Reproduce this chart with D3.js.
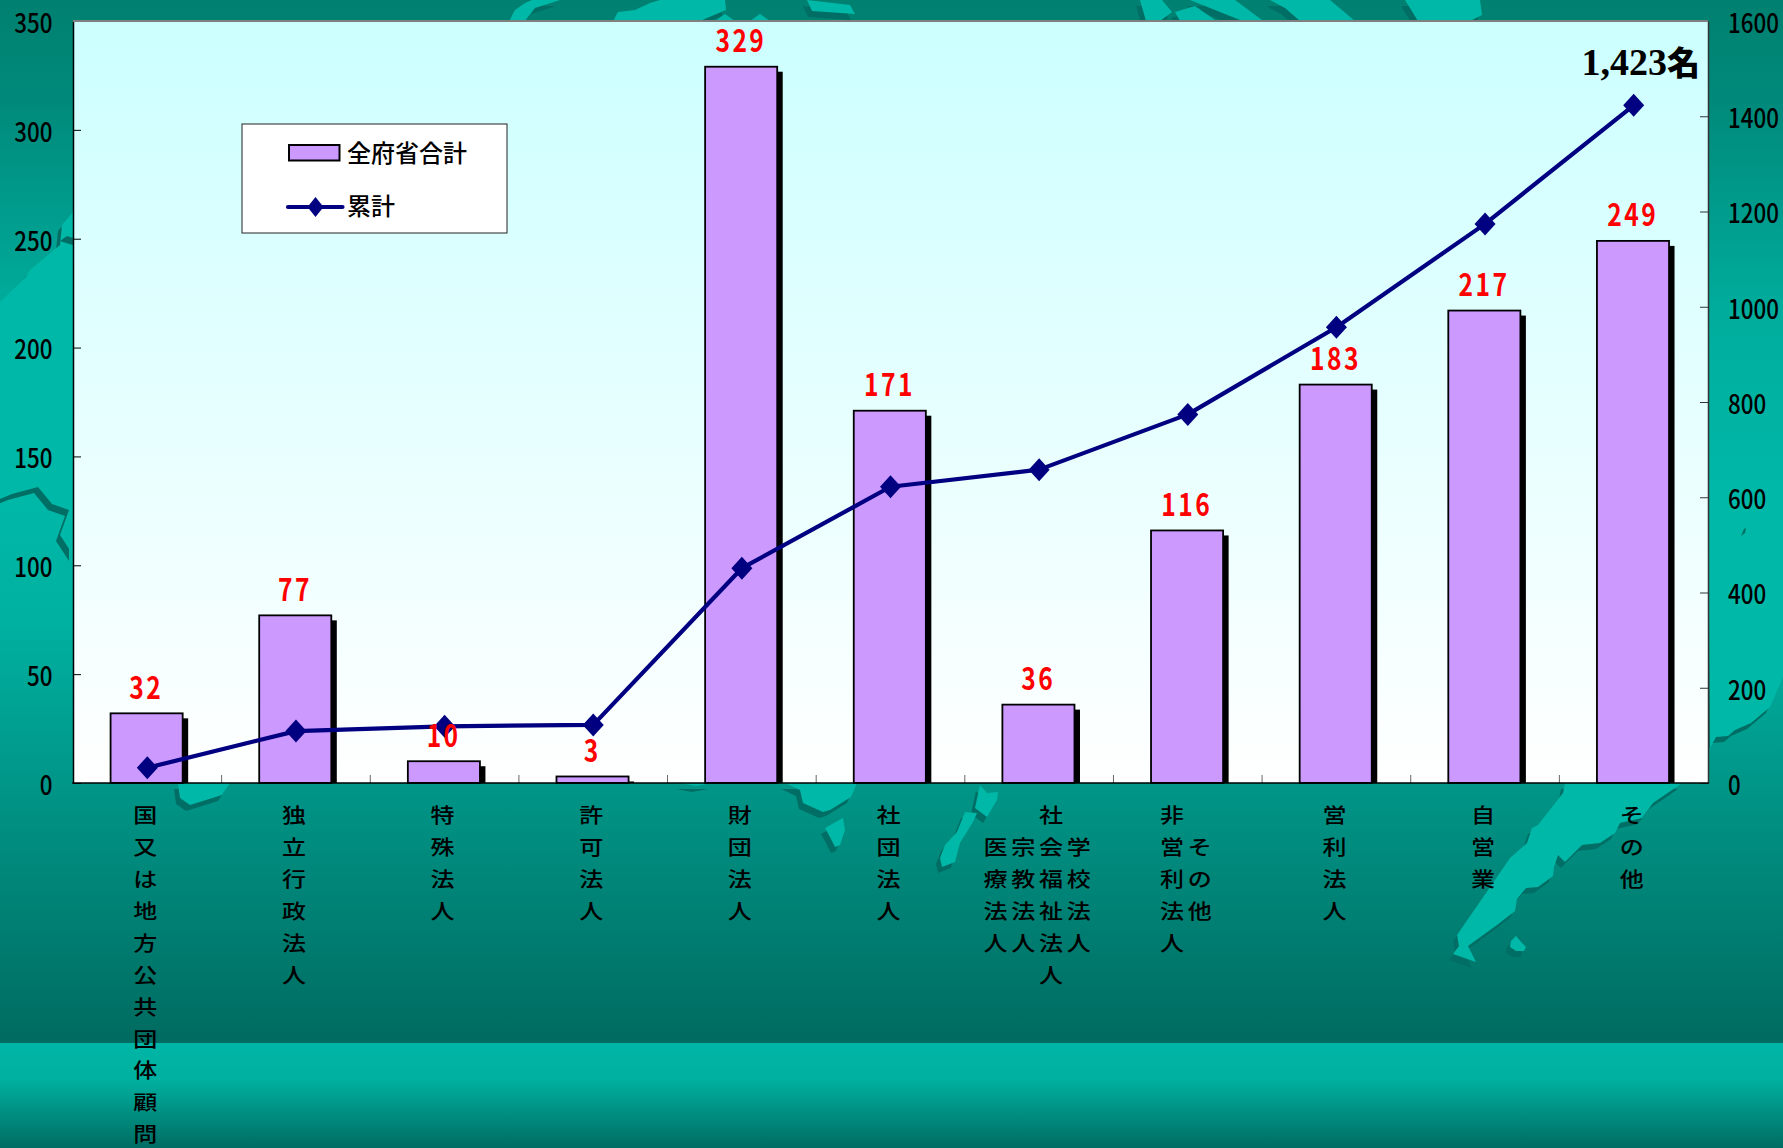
<!DOCTYPE html>
<html lang="ja"><head><meta charset="utf-8">
<script src="https://cdn.jsdelivr.net/npm/d3@7"></script>
<style>
html,body{margin:0;padding:0;background:#00806f;overflow:hidden}
svg{display:block}
text{font-family:"Noto Sans CJK JP","Noto Sans",sans-serif;fill:#000}
</style></head><body>
<div id="chart"></div>
<script>
// ---------- data ----------
const categories = ["国又は地方公共団体顧問","独立行政法人","特殊法人","許可法人","財団法人","社団法人","社会福祉法人等","非営利法人等","営利法人","自営業","その他"];
const labelColumns = [["国又は地方公共団体顧問"],["独立行政法人"],["特殊法人"],["許可法人"],["財団法人"],["社団法人"],["医療法人","宗教法人","社会福祉法人","学校法人"],["非営利法人","その他"],["営利法人"],["自営業"],["その他"]];
const totals = [32,77,10,3,329,171,36,116,183,217,249];
const cumulative = [32,109,119,122,451,622,658,774,957,1174,1423];
const leftTicks = [0,50,100,150,200,250,300,350];
const rightTicks = [0,200,400,600,800,1000,1200,1400,1600];
const legendNames = ["全府省合計","累計"];
const totalNumber = "1,423", totalUnit = "名";

// ---------- decorative map behind the chart ----------
const land = [
 [[1565,783],[1563,793],[1538,825],[1532,828],[1527,843],[1510,858],[1457,935],[1459,946],[1453,954],[1476,962],[1468,946],[1497,925],[1515,911],[1517,899],[1526,888],[1538,887],[1553,876],[1554,867],[1558,855],[1565,862],[1582,845],[1600,843],[1615,833],[1620,823],[1642,818],[1653,803],[1672,790],[1682,783]],
 [[1511,941],[1516,936],[1522,943],[1526,947],[1524,951],[1516,951],[1510,947]],
 [[785,783],[800,790],[803,803],[823,812],[830,810],[851,797],[857,783]],
 [[825,828],[843,818],[845,830],[840,845],[835,847],[830,837]],
 [[965,812],[977,813],[973,822],[960,843],[955,862],[942,867],[940,858],[945,845],[957,832]],
 [[980,785],[987,793],[998,792],[997,800],[987,817],[975,808]],
 [[178,783],[230,783],[222,795],[190,805],[180,798]],
 [[680,783],[712,783],[696,786]],
 [[509,21],[515,10],[525,3],[532,0],[560,0],[535,8],[525,21]],
 [[613,21],[618,12],[635,10],[650,3],[660,0],[725,0],[726,10],[700,21]],
 [[807,0],[850,5],[855,14],[812,11]],
 [[715,21],[725,14],[735,21]],[[750,21],[760,14],[770,21]],
 [[1140,0],[1162,0],[1172,12],[1160,21],[1146,21]],
 [[1175,12],[1195,6],[1215,20],[1180,21]],
 [[1190,0],[1235,0],[1262,20],[1240,20]],
 [[1270,0],[1330,0],[1355,21],[1300,21],[1285,8]],
 [[1405,0],[1480,0],[1482,15],[1470,21],[1418,21]],
 [[0,302],[25,278],[30,270],[60,245],[62,225],[73,212],[73,555],[60,535],[69,510],[52,504],[38,487],[12,494],[0,499]],
 [[1710,748],[1716,737],[1728,736],[1735,730],[1751,723],[1770,707],[1783,677],[1783,480],[1708,480]]
];
const darkPatches = [
 [[60,241],[67,236],[73,238],[73,245],[66,243]],
 [[1741,536],[1744,529],[1746,528],[1745,533]]
];

const W = 1783, H = 1148;
const m = {top:21, right:1708, bottom:783, left:73};
const svg = d3.select("#chart").append("svg").attr("width",W).attr("height",H).attr("viewBox",[0,0,W,H]);
const defs = svg.append("defs");
function grad(id,stops){
  const g=defs.append("linearGradient").attr("id",id).attr("x1",0).attr("x2",0).attr("y1",0).attr("y2",1);
  stops.forEach(s=>g.append("stop").attr("offset",s[0]).attr("stop-color",s[1]));
}
grad("sea",[[0,"#008070"],[.1,"#008a7b"],[.3,"#00ad9d"],[.48,"#00b8a8"],[.6,"#00b0a0"],[1,"#006b60"]]);
grad("foot",[[0,"#00b6a6"],[.35,"#00b0a0"],[1,"#006c62"]]);
grad("plot",[[0,"#ccffff"],[1,"#ffffff"]]);

svg.append("rect").attr("width",W).attr("height",1043).attr("fill","url(#sea)");
const line0 = d3.line();
const map = svg.append("g");
map.selectAll("path.s").data(land).join("path").attr("d",d=>line0(d)+"Z").attr("fill","#006e64").attr("transform","translate(-4,6)");
map.selectAll("path.l").data(land).join("path").attr("d",d=>line0(d)+"Z").attr("fill","#00b8a8");
map.selectAll("path.p").data(darkPatches).join("path").attr("d",d=>line0(d)+"Z").attr("fill","#006e64");
svg.append("rect").attr("y",1043).attr("width",W).attr("height",H-1043).attr("fill","url(#foot)");

// ---------- scales ----------
const x = d3.scaleBand().domain(categories).range([m.left,m.right]).paddingInner(0.515).paddingOuter(0.2575);
const yL = d3.scaleLinear().domain([0,350]).range([m.bottom,m.top]);
const yR = d3.scaleLinear().domain([0,1600]).range([m.bottom,m.top]);
const cx = d => x(d)+x.bandwidth()/2;

// plot area
svg.append("rect").attr("x",m.left).attr("y",m.top).attr("width",m.right-m.left).attr("height",m.bottom-m.top).attr("fill","url(#plot)");

// x ticks between categories
const xBoundary = d3.scaleLinear().domain([0,categories.length]).range([m.left,m.right]);
svg.append("g").selectAll("line").data(d3.range(1,categories.length)).join("line")
  .attr("x1",d=>xBoundary(d)).attr("x2",d=>xBoundary(d)).attr("y1",m.bottom).attr("y2",m.bottom-8)
  .attr("stroke","#666").attr("stroke-width",1);

// bars
const barShift = -0.7;
const bars = svg.append("g");
bars.selectAll("rect.shadow").data(categories).join("rect")
  .attr("x",d=>x(d)+barShift+5.5).attr("y",(d,i)=>yL(totals[i])+5)
  .attr("width",x.bandwidth()).attr("height",(d,i)=>Math.max(0,m.bottom-yL(totals[i])-5)).attr("fill","#000");
bars.selectAll("rect.bar").data(categories).join("rect")
  .attr("x",d=>x(d)+barShift).attr("y",(d,i)=>yL(totals[i]))
  .attr("width",x.bandwidth()).attr("height",(d,i)=>m.bottom-yL(totals[i]))
  .attr("fill","#cc99ff").attr("stroke","#000").attr("stroke-width",1.8);

// axes
const axL = svg.append("g").attr("transform",`translate(${m.left},0)`)
  .call(d3.axisLeft(yL).tickValues(leftTicks).tickSizeInner(-8).tickSizeOuter(0).tickFormat(d3.format("d")));
const axR = svg.append("g").attr("transform",`translate(${m.right},0)`)
  .call(d3.axisRight(yR).tickValues(rightTicks).tickSizeInner(-8).tickSizeOuter(0).tickFormat(d3.format("d")));
axL.select(".domain").attr("stroke","#000").attr("stroke-width",1.5);
axR.select(".domain").attr("stroke","#333").attr("stroke-width",1.5);
axL.selectAll(".tick line").attr("stroke","#000");
axR.selectAll(".tick line").attr("stroke","#333");
axL.selectAll(".tick text").attr("x",0).attr("dy",null).attr("text-anchor","end").attr("dominant-baseline","central")
  .attr("font-weight","500").attr("transform","translate(-20.5,0) scale(.93,1.1)").style("font-size","24px").style("font-family",'"Noto Sans CJK JP"');
axR.selectAll(".tick text").attr("x",0).attr("dy",null).attr("text-anchor","start").attr("dominant-baseline","central")
  .attr("font-weight","500").attr("transform","translate(20,0) scale(.93,1.1)").style("font-size","24px").style("font-family",'"Noto Sans CJK JP"');
svg.append("line").attr("x1",m.left).attr("x2",m.right).attr("y1",m.top).attr("y2",m.top).attr("stroke","#808080").attr("stroke-width",2);
svg.append("line").attr("x1",m.left-.75).attr("x2",m.right+.75).attr("y1",m.bottom).attr("y2",m.bottom).attr("stroke","#000").attr("stroke-width",1.5);

// cumulative line
const diamond = (r,rx)=>`M0,${-r}L${rx},0L0,${r}L${-rx},0Z`;
svg.append("path").datum(cumulative)
  .attr("d",d3.line().x((d,i)=>cx(categories[i])).y(d=>yR(d)))
  .attr("fill","none").attr("stroke","#000080").attr("stroke-width",4.2).attr("stroke-linejoin","round");
svg.append("g").selectAll("path").data(cumulative).join("path")
  .attr("d",diamond(11.5,10.5)).attr("fill","#000080")
  .attr("transform",(d,i)=>`translate(${cx(categories[i])},${yR(d)})`);

// value labels
svg.append("g").selectAll("text").data(totals).join("text")
  .text(d=>d)
  .attr("text-anchor","middle").attr("font-weight","700")
  .style("font-size","30px").style("letter-spacing","3px").style("fill","#ff0000")
  .attr("transform",(d,i)=>`translate(${cx(categories[i])-1},${yL(d)-14.5}) scale(.82,1.03)`);

// category labels (vertical columns of characters)
const rowStep = 31.9, firstRow = 814, colStep = 27.7;
const lab = svg.append("g");
labelColumns.forEach((cols,i)=>{
  const maxLen = d3.max(cols,c=>c.length);
  cols.forEach((c,j)=>{
    const cxx = cx(categories[i]) - 2 + (j-(cols.length-1)/2)*colStep;
    const start = cols.length>1 ? firstRow + (maxLen-c.length)/2*rowStep : firstRow;
    Array.from(c).forEach((ch,k)=>{
      lab.append("text").text(ch).attr("text-anchor","middle").attr("dominant-baseline","central")
        .attr("font-weight","500").style("font-size","24px")
        .attr("transform",`translate(${cxx},${start+k*rowStep}) scale(1,.86)`);
    });
  });
});

// legend
const lg = svg.append("g");
lg.append("rect").attr("x",242).attr("y",124).attr("width",265).attr("height",109).attr("fill","#fff").attr("stroke","#222").attr("stroke-width",1);
lg.append("rect").attr("x",289).attr("y",145).attr("width",50.5).attr("height",15.5).attr("fill","#cc99ff").attr("stroke","#000").attr("stroke-width",2);
lg.append("text").text(legendNames[0]).attr("x",347).attr("y",161.5).attr("font-weight","500").style("font-size","24px");
lg.append("line").attr("x1",288).attr("x2",342.5).attr("y1",207).attr("y2",207).attr("stroke","#000080").attr("stroke-width",4.2).attr("stroke-linecap","round");
lg.append("path").attr("d",diamond(10,8)).attr("fill","#000080").attr("transform","translate(315.5,207)");
lg.append("text").text(legendNames[1]).attr("x",347).attr("y",215).attr("font-weight","500").style("font-size","24px");

// total annotation
const tot = svg.append("text").attr("x",1700).attr("y",75).attr("text-anchor","end").attr("font-weight","700");
tot.append("tspan").text(totalNumber).style("font-family",'"Liberation Serif"').style("font-size","38px");
tot.append("tspan").text(totalUnit).style("font-family",'"Noto Sans CJK JP"').style("font-size","33px").attr("font-weight","900");
</script>
</body></html>
